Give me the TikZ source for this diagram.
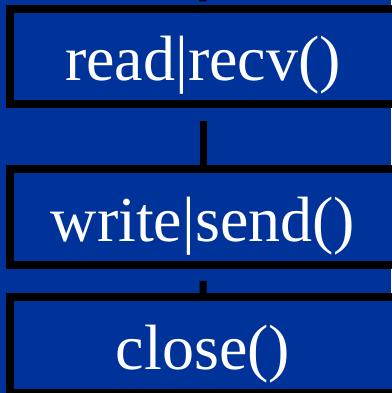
\documentclass[tikz,border=0pt]{standalone}
\usepackage{fontspec}
\setmainfont{Liberation Serif}
\definecolor{bgblue}{RGB}{0,51,153}
\begin{document}
\begin{tikzpicture}[
		x = 1pt, y = 1pt,
		call/.style = { draw, line width = 8pt, fill = bgblue, text = white, inner sep = 0pt,
			minimum width = 386pt, minimum height = 95.5pt,
			font = \fontsize{64pt}{70pt}\selectfont, text height = 58pt, text depth = 10pt },
		edge from parent/.style = { draw, line width = 7pt, shorten <= 12pt },
		level 1/.style = { level distance = 160.25pt },
		level 2/.style = { level distance = 128pt }
	]
	\fill [bgblue] (0, 0) rectangle (391, -393);
	\useasboundingbox (0, 0) rectangle (391, -393);
	\coordinate (above) at (202, 40);
	\node [call] (rd) at (203, -56.75) { read|recv() }
	child {
		node [call] (wr) { write|send() }
		child {
			node [call] (cl) { close() }
		}
	};
	\draw [line width = 7pt, shorten >= 3.7pt] (above) -- (rd.north);
\end{tikzpicture}
\end{document}
